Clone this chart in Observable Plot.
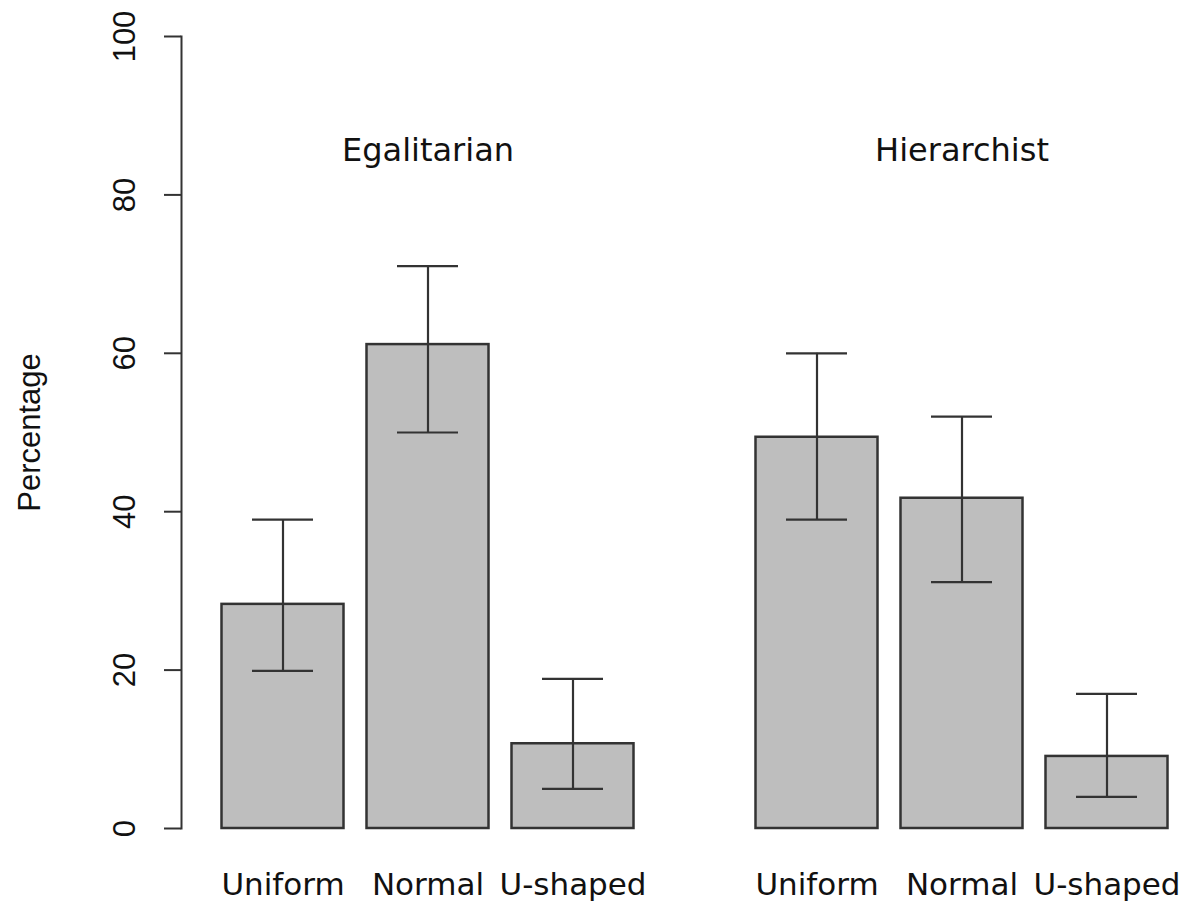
<!DOCTYPE html>
<html><head><meta charset="utf-8">
<script src="https://cdn.jsdelivr.net/npm/d3@7"></script>
<script src="https://cdn.jsdelivr.net/npm/@observablehq/plot@0.6"></script>
<style>body{margin:0;background:#fff}</style>
</head><body><div id="chart"></div>
<script>
const groups = ["Egalitarian", "Hierarchist"];
const categories = ["Uniform", "Normal", "U-shaped"];
const egalitarianValues = [28.3, 61.1, 10.7];
const egalitarianLower = [19.9, 50.0, 5.0];
const egalitarianUpper = [39.0, 71.0, 18.9];
const hierarchistValues = [49.4, 41.7, 9.1];
const hierarchistLower = [39.0, 31.1, 4.0];
const hierarchistUpper = [60.0, 52.0, 17.0];
const yTicks = [0, 20, 40, 60, 80, 100];
const yLabel = "Percentage";

const rows = [];
categories.forEach((c, i) => {
  rows.push({group: groups[0], cat: c, value: egalitarianValues[i], lo: egalitarianLower[i], hi: egalitarianUpper[i]});
});
categories.forEach((c, i) => {
  rows.push({group: groups[1], cat: c, value: hierarchistValues[i], lo: hierarchistLower[i], hi: hierarchistUpper[i]});
});

const ink = "#333";
const chart = Plot.plot({
  width: 1187, height: 904,
  marginLeft: 209.5, marginRight: 8.5, marginTop: 36, marginBottom: 76,
  style: {fontFamily: "'Liberation Sans', Arial, sans-serif", background: "#fff", color: "#111"},
  fx: {domain: groups, paddingInner: 0.1854, paddingOuter: 0, axis: null, label: null},
  x: {domain: categories, paddingInner: 0.1586, paddingOuter: 0.0793, axis: null, label: null},
  y: {domain: [0, 100], axis: null},
  marks: [
    Plot.barY(rows, {fx: "group", x: "cat", y: "value", fill: "#bebebe", stroke: ink, strokeWidth: 2.5}),
    Plot.ruleX(rows, {fx: "group", x: "cat", y1: "lo", y2: "hi", stroke: ink, strokeWidth: 2.2}),
    Plot.tickY(rows, {fx: "group", x: "cat", y: "lo", insetLeft: 30.5, insetRight: 30.5, stroke: ink, strokeWidth: 2.2}),
    Plot.tickY(rows, {fx: "group", x: "cat", y: "hi", insetLeft: 30.5, insetRight: 30.5, stroke: ink, strokeWidth: 2.2}),
    Plot.text(groups, {fx: d => d, text: d => d, frameAnchor: "top", dy: 102, fontSize: 32, fontFamily: "'DejaVu Sans', sans-serif", fill: "#111"}),
    Plot.axisX({anchor: "bottom", tickSize: 0, tickPadding: 44, fontSize: 31, fontFamily: "'DejaVu Sans', sans-serif", label: null, fill: "#111"}),
    Plot.axisY(yTicks, {anchor: "left", dx: -29, tickSize: 17, tickPadding: 30, tickRotate: -90, fontSize: 31, stroke: ink, strokeWidth: 2, label: null, fill: "#111"}),
    Plot.text([yLabel], {text: d => d, facetAnchor: "left", frameAnchor: "left", textAnchor: "middle", dx: -180, rotate: -90, fontSize: 31, fill: "#111"}),
    Plot.frame({anchor: "left", facetAnchor: "left", dx: -29, stroke: ink, strokeWidth: 2})
  ]
});
document.getElementById("chart").appendChild(chart);
</script>
</body></html>
